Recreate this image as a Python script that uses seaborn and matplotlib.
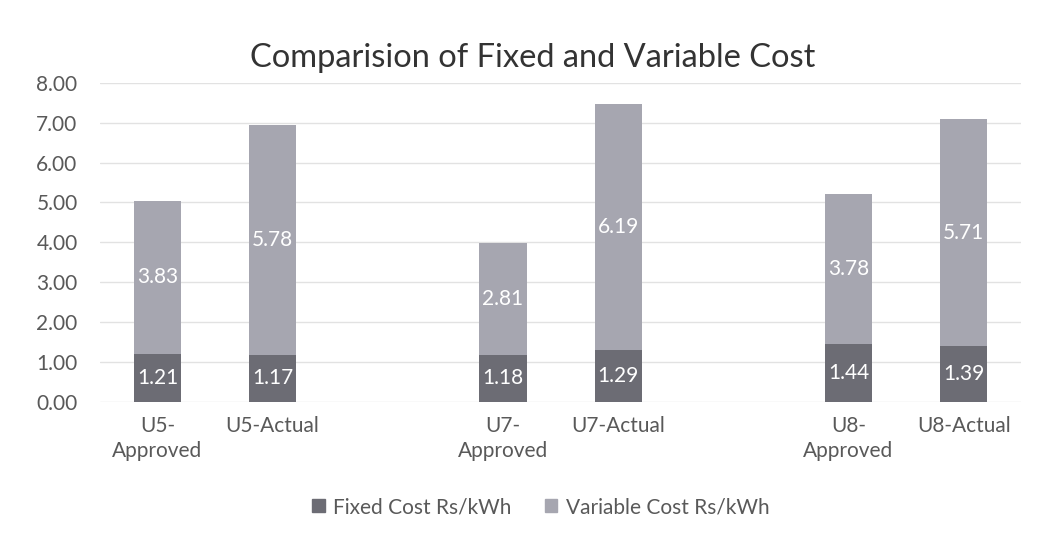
import pandas as pd
import matplotlib
matplotlib.use("Agg")
import matplotlib.pyplot as plt
import matplotlib.patches as mpatches
import seaborn as sns

# Chart data
categories = ["U5-\nApproved", "U5-Actual", "U7-\nApproved", "U7-Actual", "U8-\nApproved", "U8-Actual"]
fixed_cost = [1.21, 1.17, 1.18, 1.29, 1.44, 1.39]
variable_cost = [3.83, 5.78, 2.81, 6.19, 3.78, 5.71]

# blank slots between the unit pairs
order = categories[0:2] + [" "] + categories[2:4] + ["  "] + categories[4:6]

df = pd.DataFrame({"unit": categories, "fixed": fixed_cost, "variable": variable_cost})
df["total"] = df["fixed"] + df["variable"]

fixed_color = "#6c6c74"
var_color = "#a6a6b0"
font = ["Lato", "DejaVu Sans"]

sns.set_theme(style="white")
plt.rcParams["font.family"] = font

fig = plt.figure(figsize=(10.4, 5.35), dpi=100)
ax = fig.add_axes([0.096, 0.249, 0.886, 0.596])

sns.barplot(data=df, x="unit", y="total", order=order, color=var_color,
            width=0.41, saturation=1, linewidth=0, ax=ax, zorder=2)
sns.barplot(data=df, x="unit", y="fixed", order=order, color=fixed_color,
            width=0.41, saturation=1, linewidth=0, ax=ax, zorder=3)

# value labels in the middle of each segment
for _, row in df.iterrows():
    xpos = order.index(row["unit"])
    ax.text(xpos, row["fixed"] / 2, f"{row['fixed']:.2f}", ha="center", va="center",
            color="white", fontsize=15, zorder=4)
    ax.text(xpos, row["fixed"] + row["variable"] / 2, f"{row['variable']:.2f}",
            ha="center", va="center", color="white", fontsize=15, zorder=4)

ax.set_ylim(0, 8)
ax.set_yticks(range(0, 9))
ax.set_yticklabels([f"{v:.2f}" for v in range(0, 9)])
ax.yaxis.grid(True, color="#e2e2e2", linewidth=1, zorder=0)
ax.set_axisbelow(True)
for s in ax.spines.values():
    s.set_visible(False)
ax.tick_params(axis="both", length=0, labelsize=15, labelcolor="#595959")
ax.tick_params(axis="y", pad=16)
ax.tick_params(axis="x", pad=10)
for lbl in ax.get_xticklabels():
    lbl.set_linespacing(1.35)
ax.set_xlabel("")
ax.set_ylabel("")

fig.suptitle("Comparision of Fixed and Variable Cost", x=0.512, y=0.92, fontsize=23.5,
             color="#333333")

handles = [mpatches.Patch(color=fixed_color, label="Fixed Cost Rs/kWh"),
           mpatches.Patch(color=var_color, label="Variable Cost Rs/kWh")]
fig.legend(handles=handles, loc="center", bbox_to_anchor=(0.52, 0.052), ncol=2,
           frameon=False, fontsize=15, handlelength=0.6, handleheight=0.6,
           columnspacing=1.6, handletextpad=0.4, labelcolor="#595959")

fig.savefig("out.png", dpi=100, facecolor="white")
